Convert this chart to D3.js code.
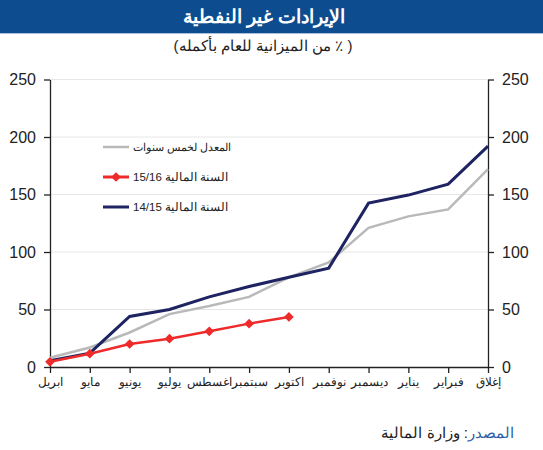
<!DOCTYPE html>
<html><head><meta charset="utf-8">
<script src="https://cdn.jsdelivr.net/npm/d3@7"></script>
<style>body{margin:0;background:#fff;}svg{display:block;font-family:Arial,"Liberation Sans",sans-serif;}</style>
</head><body>
<script>
const months = ["ابريل","مايو","يونيو","يوليو","اغسطس","سبتمبر","اكتوبر","نوفمبر","ديسمبر","يناير","فبراير","إغلاق"];
const avg5 = [8,17,30,46,53,61,78,91,121,131,137,172];
const fy1415 = [5.5,12,44,50,61,70,78,86,142.5,149.5,159,192];
const fy1516 = [4.5,11.6,20,24.6,31,37.7,43.5];
const yTicks = [0,50,100,150,200,250];
const legendLabels = ["المعدل لخمس سنوات","السنة المالية  15/16","السنة المالية  14/15"];
const titleText = "الإيرادات غير النفطية";
const subtitleText = "( ٪ من الميزانية للعام بأكمله)";

const W=543,H=450;
const svg=d3.select("body").append("svg").attr("width",W).attr("height",H);
svg.append("rect").attr("x",0).attr("y",0).attr("width",W).attr("height",33).attr("fill","#0d4c8e");
svg.append("rect").attr("x",0).attr("y",33).attr("width",W).attr("height",1).attr("fill","#a9c0da");
svg.append("text").attr("x",264).attr("y",23).attr("text-anchor","middle").attr("fill","#fff")
  .attr("font-size",19).attr("font-weight","bold").attr("direction","rtl").text(titleText);
svg.append("text").attr("x",263).attr("y",51).attr("text-anchor","middle").attr("fill","#222")
  .attr("direction","rtl").attr("font-size",15).text(subtitleText);

const x=d3.scalePoint().domain(months).range([50,488]);
const y=d3.scaleLinear().domain([0,250]).range([367,79.5]);

svg.append("g").selectAll("line").data(yTicks.filter(d=>d>0)).join("line")
  .attr("x1",50).attr("x2",488).attr("y1",d=>y(d)).attr("y2",d=>y(d))
  .attr("stroke","#e6e6e6").attr("stroke-width",1);

const styleAxis=g=>{g.selectAll("path,line").attr("stroke","#222").attr("stroke-width",1.3);
  g.selectAll("text").attr("fill","#222");};

svg.append("g").attr("transform","translate(50,0)")
  .call(d3.axisLeft(y).tickValues(yTicks).tickSize(6).tickSizeOuter(0).tickPadding(8))
  .call(styleAxis).call(g=>g.selectAll("text").attr("font-size",16).attr("font-family","Arial,'Liberation Sans',sans-serif"));
svg.append("g").attr("transform","translate(488,0)")
  .call(d3.axisRight(y).tickValues(yTicks).tickSize(6).tickSizeOuter(0).tickPadding(8))
  .call(styleAxis).call(g=>g.selectAll("text").attr("font-size",16).attr("font-family","Arial,'Liberation Sans',sans-serif"));
svg.append("g").attr("transform","translate(0,367)")
  .call(d3.axisBottom(x).tickSize(6).tickSizeOuter(0).tickPadding(5))
  .call(styleAxis).call(g=>g.selectAll("text").attr("font-size",11.5).attr("font-family","Arial,sans-serif"));

const line=d3.line().x((d,i)=>x(months[i])).y(d=>y(d));
svg.append("path").datum(avg5).attr("d",line).attr("fill","none").attr("stroke","#b9b9b9").attr("stroke-width",2.5);
svg.append("path").datum(fy1415).attr("d",line).attr("fill","none").attr("stroke","#1e2362").attr("stroke-width",3);
svg.append("path").datum(fy1516).attr("d",line).attr("fill","none").attr("stroke","#ee2a2a").attr("stroke-width",2.5);
const diamond=d3.symbol().type(d3.symbolDiamond2).size(60);
svg.append("g").selectAll("path").data(fy1516).join("path")
  .attr("transform",(d,i)=>`translate(${x(months[i])},${y(d)})`).attr("d",diamond).attr("fill","#ee2a2a");

const legColors=["#b9b9b9","#ee2a2a","#1e2362"];
const legY=[147,177,207];
legendLabels.forEach((t,i)=>{
  svg.append("line").attr("x1",103).attr("x2",129).attr("y1",legY[i]).attr("y2",legY[i])
    .attr("stroke",legColors[i]).attr("stroke-width",i==0?2.5:3);
  if(i==1) svg.append("path").attr("transform",`translate(116,${legY[i]})`).attr("d",diamond).attr("fill","#ee2a2a");
  svg.append("text").attr("x",133).attr("y",legY[i]+4).attr("text-anchor","end").attr("direction","rtl")
    .attr("font-size",i==0?11:11.5).attr("fill","#222").text(t);
});

const src=svg.append("text").attr("x",514).attr("y",438).attr("direction","rtl").attr("text-anchor","start").attr("font-size",15);
src.append("tspan").attr("fill","#2f5fa8").text("المصدر");
src.append("tspan").attr("fill","#222").text(": وزارة المالية");
</script>
</body></html>
